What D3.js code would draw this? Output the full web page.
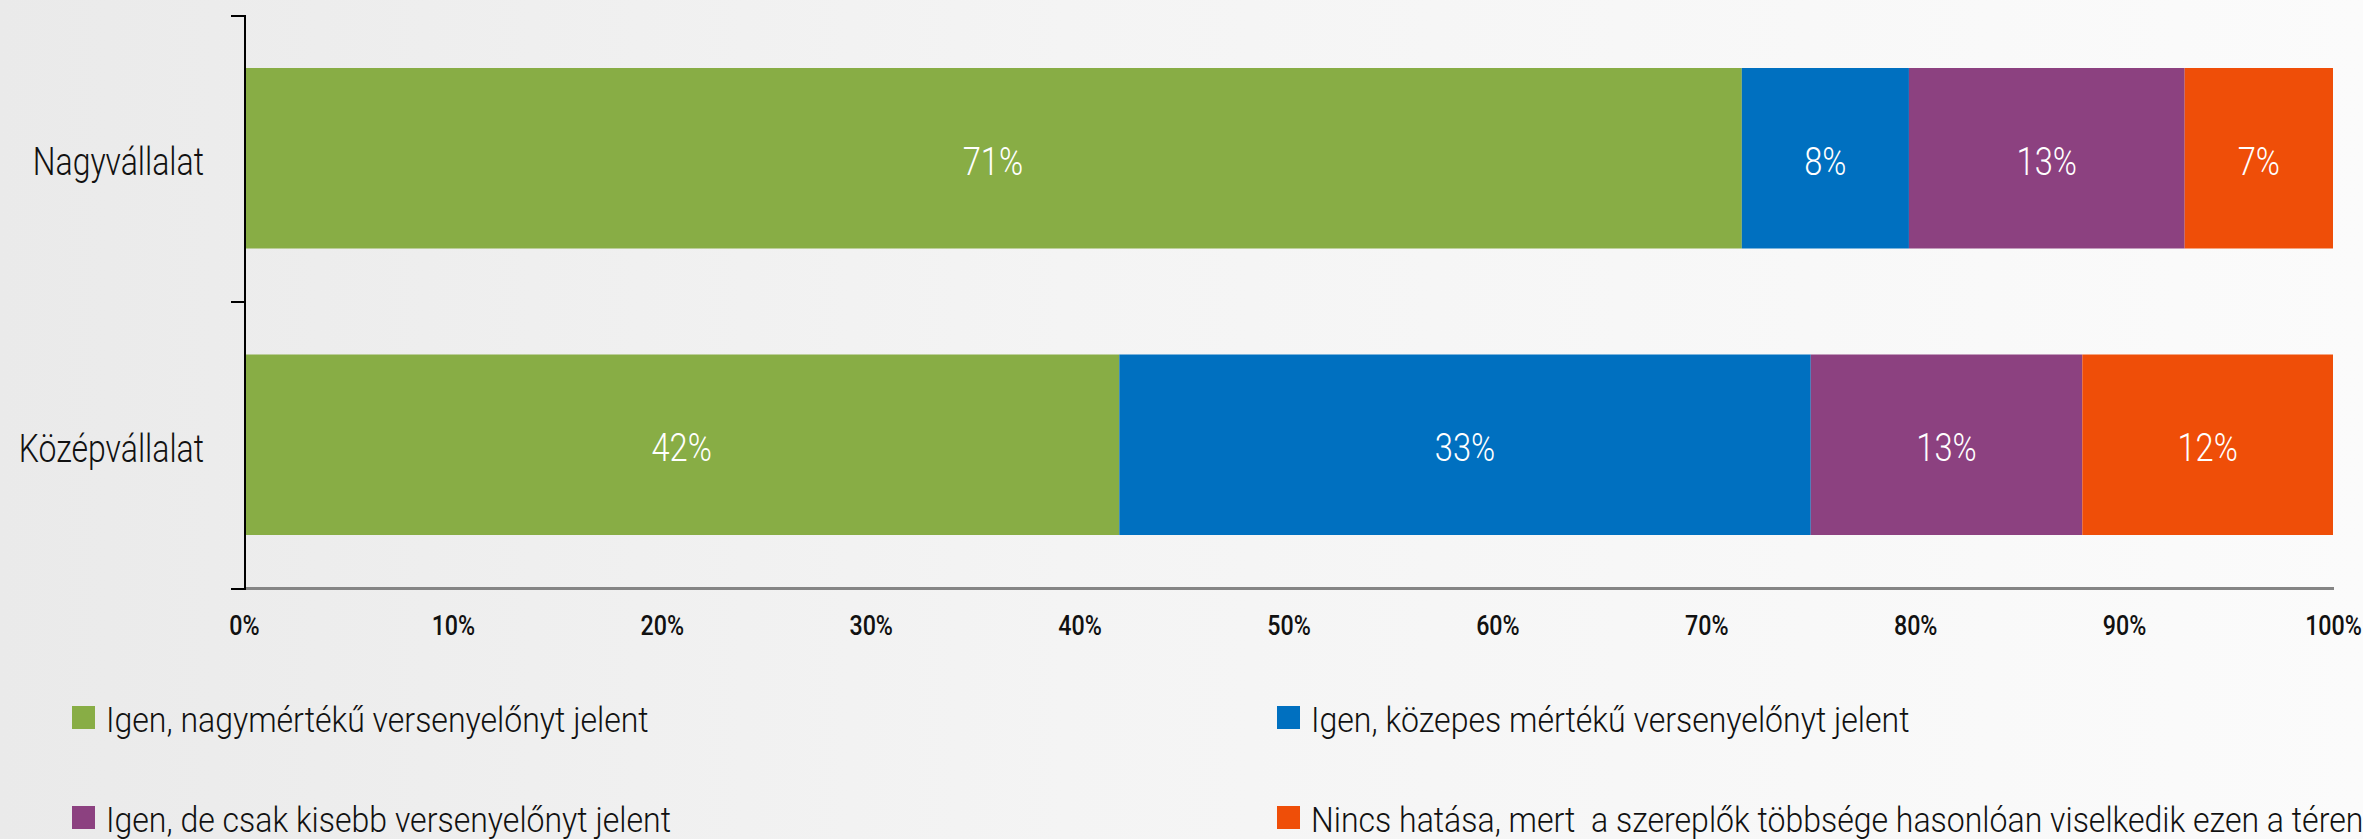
<!DOCTYPE html>
<html lang="hu">
<head>
<meta charset="UTF-8"/>
<title>Versenyelőny – vállalatméret szerint</title>
<script src="https://d3js.org/d3.v7.min.js"></script>
<style>
    body { margin: 0; }
    text { font-family: Roboto, "Noto Sans", sans-serif; }
    .axis-y path, .axis-y line { stroke: #000; stroke-width: 2px; shape-rendering: crispEdges; }
    .axis-x path { stroke: #858585; stroke-width: 3px; shape-rendering: crispEdges; }
    .axis-x text { font-size: 28px; font-weight: 500; fill: #111; }
    .cat-label { font-size: 39px; font-weight: 300; fill: #111; }
    .bar-label { font-size: 38px; font-weight: 300; fill: #fff; }
    .legend text { font-size: 35px; font-weight: 300; fill: #111; white-space: pre; }
</style>
</head>
<body>
<div id="chart"></div>
<script>
    // data
    const categories = ["Nagyvállalat", "Középvállalat"];
    const seriesNames = [
        "Igen, nagymértékű versenyelőnyt jelent",
        "Igen, közepes mértékű versenyelőnyt jelent",
        "Igen, de csak kisebb versenyelőnyt jelent",
        "Nincs hatása, mert  a szereplők többsége hasonlóan viselkedik ezen a téren"
    ];
    const colors = ["#88ad45", "#0070c0", "#8c4180", "#ef4e08"];
    const greatValues = [71.7, 41.9];
    const mediumValues = [8.0, 33.1];
    const smallValues = [13.2, 13.0];
    const noneValues = [7.1, 12.0];
    const greatLabels = ["71%", "42%"];
    const mediumLabels = ["8%", "33%"];
    const smallLabels = ["13%", "13%"];
    const noneLabels = ["7%", "12%"];
    const xTicks = [0, 10, 20, 30, 40, 50, 60, 70, 80, 90, 100];

    const W = 2363, H = 839;
    const plot = {left: 244, right: 2333, top: 15, bottom: 588};

    const keys = ["great", "medium", "small", "none"];
    const valueLists = [greatValues, mediumValues, smallValues, noneValues];
    const labelLists = [greatLabels, mediumLabels, smallLabels, noneLabels];

    const rows = categories.map(function(c, i) {
        const r = {cat: c, idx: i};
        keys.forEach(function(k, j) { r[k] = valueLists[j][i]; });
        return r;
    });
    const stacked = d3.stack().keys(keys)(rows);

    const svg = d3.select("#chart").append("svg")
        .attr("width", W)
        .attr("height", H);

    // background
    const grad = svg.append("defs").append("linearGradient")
        .attr("id", "bg").attr("x1", "0").attr("x2", "1").attr("y1", "0").attr("y2", "0");
    grad.append("stop").attr("offset", "0").attr("stop-color", "#eaeaea");
    grad.append("stop").attr("offset", "0.45").attr("stop-color", "#f4f4f4");
    grad.append("stop").attr("offset", "1").attr("stop-color", "#fbfbfb");
    svg.append("rect").attr("width", W).attr("height", H).attr("fill", "url(#bg)");

    const x = d3.scaleLinear().domain([0, 100]).range([plot.left, plot.right]);
    const y = d3.scaleBand().domain(categories)
        .range([plot.top, plot.bottom])
        .paddingInner(0.37)
        .paddingOuter(0.185);
    const yEdge = d3.scaleLinear().domain([0, categories.length]).range([plot.top, plot.bottom]);

    // bars
    const layer = svg.selectAll("g.layer").data(stacked).enter().append("g")
        .attr("class", "layer")
        .attr("fill", function(d, i) { return colors[i]; });
    layer.selectAll("rect").data(function(d) { return d; }).enter().append("rect")
        .attr("x", function(d) { return x(d[0]); })
        .attr("y", function(d) { return y(d.data.cat); })
        .attr("width", function(d) { return x(d[1]) - x(d[0]); })
        .attr("height", y.bandwidth());

    // value labels
    layer.selectAll("text").data(function(d, i) {
        return d.map(function(p) { return {p: p, label: labelLists[i][p.data.idx]}; });
    }).enter().append("text")
        .attr("class", "bar-label")
        .attr("text-anchor", "middle")
        .attr("dy", "0.44em")
        .attr("transform", function(d) {
            const cx = (x(d.p[0]) + x(d.p[1])) / 2;
            const cy = y(d.p.data.cat) + y.bandwidth() / 2;
            return "translate(" + cx + "," + cy + ") scale(0.86,1)";
        })
        .text(function(d) { return d.label; });

    // x axis
    const gx = svg.append("g")
        .attr("class", "axis-x")
        .attr("transform", "translate(0," + plot.bottom + ")")
        .call(d3.axisBottom(x).tickValues(xTicks).tickSize(0).tickPadding(27)
            .tickFormat(function(d) { return d + "%"; }));
    gx.selectAll("text").attr("transform", "scale(0.83,1)");

    // y axis (ticks between categories)
    svg.append("g")
        .attr("class", "axis-y")
        .attr("transform", "translate(" + plot.left + ",0)")
        .call(d3.axisLeft(yEdge).tickValues(d3.range(categories.length + 1))
            .tickSize(13).tickFormat(""));

    svg.append("g").selectAll("text").data(categories).enter().append("text")
        .attr("class", "cat-label")
        .attr("text-anchor", "end")
        .attr("dy", "0.43em")
        .attr("transform", function(d) {
            return "translate(204," + (y(d) + y.bandwidth() / 2) + ") scale(0.82,1)";
        })
        .text(function(d) { return d; });

    // legend: two columns, two rows
    const legendCols = [72, 1277];
    const legendRows = [706, 806];
    const item = svg.append("g").attr("class", "legend")
        .selectAll("g").data(seriesNames).enter().append("g")
        .attr("transform", function(d, i) {
            return "translate(" + legendCols[i % 2] + "," + legendRows[Math.floor(i / 2)] + ")";
        });
    item.append("rect").attr("width", 23).attr("height", 23)
        .attr("fill", function(d, i) { return colors[i]; });
    item.append("text")
        .attr("transform", "translate(34,26) scale(0.915,1)")
        .text(function(d) { return d; });
</script>
</body>
</html>
